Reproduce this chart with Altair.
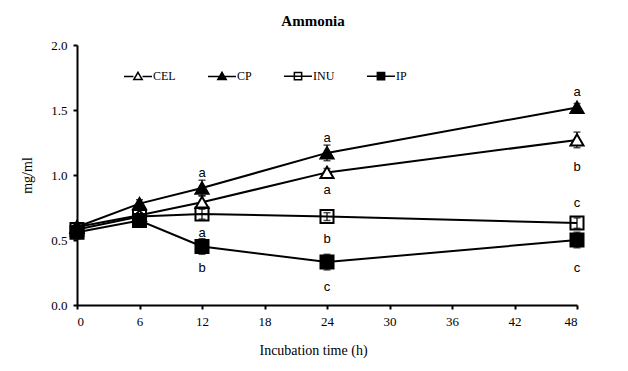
import altair as alt
import pandas as pd

# ---- data ----
times = [0, 6, 12, 24, 48]
series_names = ["CEL", "CP", "INU", "IP"]
CEL = [0.60, 0.69, 0.79, 1.02, 1.27]
CP = [0.60, 0.78, 0.90, 1.17, 1.52]
INU = [0.58, 0.68, 0.70, 0.68, 0.63]
IP = [0.56, 0.65, 0.45, 0.33, 0.50]
CEL_err = [0.02, 0.02, 0.05, 0.03, 0.06]
CP_err = [0.02, 0.03, 0.06, 0.06, 0.03]
INU_err = [0.02, 0.02, 0.04, 0.03, 0.04]
IP_err = [0.05, 0.02, 0.06, 0.06, 0.06]

letter_time = [12, 12, 12, 24, 24, 24, 24, 48, 48, 48, 48]
letter_value = [1.015, 0.554, 0.285, 1.285, 0.885, 0.508, 0.138, 1.638, 1.062, 0.785, 0.285]
letter_text = ["a", "a", "b", "a", "a", "b", "c", "a", "b", "c", "c"]

x_ticks = [0, 6, 12, 18, 24, 30, 36, 42, 48]
y_ticks = [0.0, 0.5, 1.0, 1.5, 2.0]

vals = {"CEL": CEL, "CP": CP, "INU": INU, "IP": IP}
errs = {"CEL": CEL_err, "CP": CP_err, "INU": INU_err, "IP": IP_err}
rows = []
for s in series_names:
    for t, v, e in zip(times, vals[s], errs[s]):
        rows.append({"series": s, "time": t, "value": v, "lo": v - e, "hi": v + e})
df = pd.DataFrame(rows)
letters = pd.DataFrame({"time": letter_time, "value": letter_value, "letter": letter_text})

SERIF = "Liberation Serif"
x_scale = alt.Scale(domain=[0, 48], nice=False)
y_scale = alt.Scale(domain=[0, 2], nice=False)

x_enc = alt.X("time:Q", scale=x_scale,
              axis=alt.Axis(values=x_ticks, title="Incubation time (h)", labelPadding=6,
                            titleX=236, titleY=45, titleAlign="center", titleBaseline="middle"))
y_enc = alt.Y("value:Q", scale=y_scale,
              axis=alt.Axis(values=y_ticks, format=".1f", title="mg/ml", labelPadding=6,
                            titlePadding=16))

base = alt.Chart(df)

err_rule = base.mark_rule(color="black", strokeWidth=1.2).encode(
    x=x_enc, y=alt.Y("lo:Q", scale=y_scale), y2="hi:Q")
cap_lo = base.mark_tick(color="black", orient="horizontal", size=7, thickness=1.5).encode(
    x="time:Q", y=alt.Y("lo:Q", scale=y_scale))
cap_hi = base.mark_tick(color="black", orient="horizontal", size=7, thickness=1.5).encode(
    x="time:Q", y=alt.Y("hi:Q", scale=y_scale))

lines = base.mark_line(color="black", strokeWidth=2).encode(
    x="time:Q", y=y_enc, detail="series:N")

points = base.mark_point(stroke="black", strokeWidth=2, opacity=1, size=170).encode(
    x="time:Q", y="value:Q",
    shape=alt.Shape("series:N", scale=alt.Scale(domain=series_names,
                    range=["triangle-up", "triangle-up", "square", "square"]), legend=None),
    fill=alt.Fill("series:N", scale=alt.Scale(domain=series_names,
                  range=["white", "black", "transparent", "black"]), legend=None),
)

legend_paths = [
    "M-1,0L-0.32,0M0.32,0L1,0M0,-0.3L0.3,0.22L-0.3,0.22Z",
    "M-1,0L1,0M0,-0.3L0.3,0.22L-0.3,0.22Z",
    "M-1,0L1,0M-0.26,-0.26L0.26,-0.26L0.26,0.26L-0.26,0.26Z",
    "M-1,0L1,0M-0.26,-0.26L0.26,-0.26L0.26,0.26L-0.26,0.26Z",
]
leg = alt.Legend(orient="none", legendX=46, legendY=16, direction="horizontal", title=None,
                 symbolSize=784, symbolStrokeColor="black", symbolStrokeWidth=1.5,
                 labelFont=SERIF, labelFontSize=12, labelColor="black", labelOffset=0,
                 columnPadding=29, padding=0)
legend_layer = base.transform_filter("false").mark_point(opacity=1).encode(
    x="time:Q", y="value:Q",
    shape=alt.Shape("series:N", scale=alt.Scale(domain=series_names, range=legend_paths), legend=leg),
    fill=alt.Fill("series:N", scale=alt.Scale(domain=series_names,
                  range=["white", "black", "white", "black"]), legend=leg),
    stroke=alt.Stroke("series:N", scale=alt.Scale(domain=series_names,
                      range=["black", "black", "black", "black"]), legend=leg),
)

text = alt.Chart(letters).mark_text(font="Liberation Sans", fontSize=13, color="black",
                                    baseline="middle", align="center").encode(
    x="time:Q", y="value:Q", text="letter:N")

chart = alt.layer(err_rule, cap_lo, cap_hi, lines, points, text, legend_layer).resolve_scale(
    shape="independent", fill="independent", stroke="independent"
).properties(
    width=500, height=260,
    title=alt.TitleParams("Ammonia", font=SERIF, fontSize=15, fontWeight="bold", color="black",
                          anchor="middle", dx=-14, offset=10),
    autosize=alt.AutoSizeParams(type="none"),
    padding={"left": 69, "top": 37, "right": 43, "bottom": 58},
).configure_view(stroke=None).configure_axis(
    domainColor="black", domainWidth=2, tickColor="black", tickWidth=2, tickSize=4,
    labelFont=SERIF, labelFontSize=13, labelColor="black",
    titleFont=SERIF, titleFontSize=14, titleFontWeight="normal", titleColor="black", grid=False,
)

chart.save("out.html", embed_options={"renderer": "svg", "actions": False})
